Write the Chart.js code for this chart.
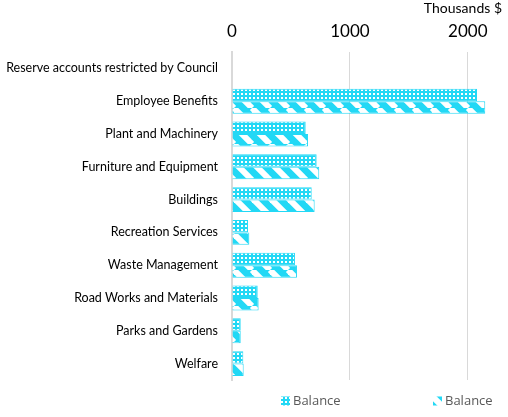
<!DOCTYPE html>
<html>
<head>
<meta charset="utf-8">
<script src="https://cdn.jsdelivr.net/npm/chart.js@4.4.1/dist/chart.umd.min.js"></script>
<style>
  body { margin: 0; background: #fff; }
  #wrap { width: 508px; height: 417px; }
</style>
</head>
<body>
<div id="wrap"><canvas id="grafico"></canvas></div>
<script>
const categorias = [
    'Reserve accounts restricted by Council',
    'Employee Benefits',
    'Plant and Machinery',
    'Furniture and Equipment',
    'Buildings',
    'Recreation Services',
    'Waste Management',
    'Road Works and Materials',
    'Parks and Gardens',
    'Welfare'
];
const balanceA = [0, 2078, 625, 718, 676, 136, 534, 218, 74, 96];
const balanceB = [0, 2148, 645, 740, 701, 147, 551, 226, 74, 99];
const tickValues = [0, 1000, 2000];
const axisMax = 2290;

const ciano = '#22d8f5';

// padrao de pontos (serie 1)
function padraoPontos() {
    const c = document.createElement('canvas');
    c.width = 4; c.height = 4;
    const g = c.getContext('2d');
    g.fillStyle = ciano;
    g.fillRect(0, 0, 4, 4);
    g.fillStyle = '#fff';
    g.fillRect(1, 1, 2, 2);
    return g.createPattern(c, 'repeat');
}

// padrao de listras diagonais (serie 2)
function padraoListras() {
    const s = 18;
    const c = document.createElement('canvas');
    c.width = s; c.height = s;
    const g = c.getContext('2d');
    g.fillStyle = ciano;
    g.fillRect(0, 0, s, s);
    g.strokeStyle = '#fff';
    g.lineWidth = 6;
    for (let x0 = -s; x0 <= s; x0 += s) {
        g.beginPath();
        g.moveTo(x0, 0);
        g.lineTo(x0 + s, s);
        g.stroke();
    }
    return g.createPattern(c, 'repeat');
}

// legenda desenhada a mao, com o espaco largo do original
const legendaManual = {
    id: 'legendaManual',
    afterDraw(chart) {
        const ctx = chart.ctx;
        const inicioX = [281, 433];
        const y = 401;
        ctx.save();
        ctx.font = '13px "Open Sans"';
        ctx.textBaseline = 'middle';
        chart.data.datasets.forEach((ds, i) => {
            const x = inicioX[i];
            ctx.fillStyle = ds.backgroundColor;
            ctx.fillRect(x, y - 4.5, 9, 9);
            ctx.fillStyle = '#595959';
            ctx.fillText(ds.label, x + 12, y);
        });
        ctx.restore();
    }
};

const dataBar = {
    labels: categorias,
    datasets: [
        {
            label: 'Balance',
            data: balanceA,
            backgroundColor: padraoPontos(),
            borderColor: ciano,
            borderWidth: 1,
        },
        {
            label: 'Balance',
            data: balanceB,
            backgroundColor: padraoListras(),
            borderColor: ciano,
            borderWidth: 1,
        }
    ]
};

const configBar = {
    type: 'bar',
    data: dataBar,
    plugins: [legendaManual],
    options: {
        indexAxis: 'y',
        responsive: true,
        maintainAspectRatio: false,
        animation: false,
        categoryPercentage: 0.76,
        barPercentage: 1.0,
        layout: { padding: { top: 0, left: 6, right: 6, bottom: 37 } },
        scales: {
            x: {
                position: 'top',
                min: 0,
                max: axisMax,
                afterBuildTicks: (axis) => {
                    axis.ticks = tickValues.map(v => ({ value: v }));
                },
                afterFit: (scale) => { scale.height = 52; },
                grid: { color: '#d9d9d9', drawTicks: false },
                border: { display: false },
                ticks: {
                    padding: 10,
                    color: '#000',
                    font: { family: 'Lato', size: 17 },
                    callback: (v) => String(v)
                },
                title: {
                    display: true,
                    text: 'Thousands $',
                    align: 'end',
                    color: '#000',
                    padding: { top: 0, bottom: 2 },
                    font: { family: 'Lato', size: 14 }
                }
            },
            y: {
                afterFit: (scale) => { scale.width = 226; },
                grid: { display: false },
                border: { display: true, color: '#d9d9d9', width: 2 },
                ticks: {
                    padding: 6,
                    color: '#000',
                    font: { family: 'Lato', size: 12.5 }
                }
            }
        },
        plugins: {
            legend: { display: false },
            tooltip: { enabled: false }
        }
    }
};

const ctxBar = document.getElementById('grafico').getContext('2d');
const barChart = new Chart(ctxBar, configBar);
</script>
</body>
</html>
